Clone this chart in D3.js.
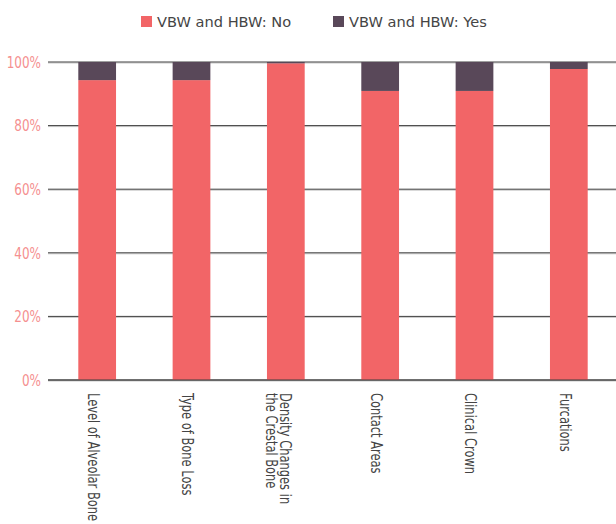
<!DOCTYPE html>
<html>
<head>
<meta charset="utf-8">
<script src="https://cdn.jsdelivr.net/npm/d3@7"></script>
<style>
  body { margin: 0; background: #fff; }
</style>
</head>
<body>
<div id="outlet"></div>
<script>
// chart data
const categories = [
  ["Level of Alveolar Bone"],
  ["Type of Bone Loss"],
  ["Density Changes in", "the Crestal Bone"],
  ["Contact Areas"],
  ["Clinical Crown"],
  ["Furcations"]
];
const seriesNames = ["VBW and HBW: No", "VBW and HBW: Yes"];
const noValues = [94.3, 94.3, 99.6, 90.9, 90.9, 97.8];
const yesValues = [5.7, 5.7, 0.4, 9.1, 9.1, 2.2];
const yTicks = [0, 20, 40, 60, 80, 100];

const width = 616, height = 524;
const marginLeft = 50, marginRight = 0, marginTop = 62, marginBottom = 144;
const colors = ["#f26567", "#594859"];
const condensed = "'DejaVu Sans Condensed', sans-serif";

const svg = d3.select("#outlet")
  .append("svg")
  .attr("width", width)
  .attr("height", height);

const x = d3.scaleBand()
  .domain(d3.range(categories.length))
  .range([marginLeft, width - marginRight])
  .paddingInner(0.6)
  .paddingOuter(0.3);

const y = d3.scaleLinear()
  .domain([0, 100])
  .range([height - marginBottom, marginTop]);

// gridlines
const grid = svg.append("g");
grid.selectAll("line.shadow")
  .data(yTicks)
  .join("line")
  .attr("class", "shadow")
  .attr("x1", 48).attr("x2", width)
  .attr("y1", d => y(d) + 1).attr("y2", d => y(d) + 1)
  .attr("stroke", "#c8c8c8");
grid.selectAll("line.main")
  .data(yTicks)
  .join("line")
  .attr("class", "main")
  .attr("x1", 48).attr("x2", width)
  .attr("y1", d => y(d)).attr("y2", d => y(d))
  .attr("stroke", "#3e3e3e");

// y axis labels
const yAxis = d3.axisLeft(y)
  .tickValues(yTicks)
  .tickFormat(d => d + "%")
  .tickSize(0)
  .tickPadding(0);

svg.append("g")
  .attr("transform", `translate(41,0)`)
  .call(yAxis)
  .call(g => g.select(".domain").remove())
  .call(g => g.selectAll("text")
    .attr("x", 0)
    .attr("transform", "scale(0.89,1)")
    .attr("fill", "#f58f8f")
    .attr("font-family", condensed)
    .attr("font-size", 15)
    .attr("dy", "0.35em"));

// stacked bars
const stacked = d3.stack().keys([0, 1])
  .value((i, k) => (k === 0 ? noValues : yesValues)[i])(d3.range(categories.length));

svg.append("g")
  .selectAll("g")
  .data(stacked)
  .join("g")
  .attr("fill", (d, k) => colors[k])
  .selectAll("rect")
  .data(d => d.map((v, i) => ({ v, i })))
  .join("rect")
  .attr("x", d => x(d.i))
  .attr("width", x.bandwidth())
  .attr("y", d => y(d.v[1]))
  .attr("height", d => y(d.v[0]) - y(d.v[1]));

// redraw zero line on top
svg.append("line")
  .attr("x1", 48).attr("x2", width)
  .attr("y1", y(0)).attr("y2", y(0))
  .attr("stroke", "#3e3e3e");

// category labels, rotated
const labels = svg.append("g")
  .selectAll("text")
  .data(categories)
  .join("text")
  .attr("transform", (d, i) => `translate(${x(i) + x.bandwidth() / 2},393) rotate(90) scale(0.85,1)`)
  .attr("font-family", condensed)
  .attr("font-size", 15)
  .attr("fill", "#444");

labels.selectAll("tspan")
  .data(d => d.map((t, j) => ({ t, j, n: d.length })))
  .join("tspan")
  .attr("x", 0)
  .attr("y", d => d.n === 1 ? 9 : 6 + d.j * 13.5)
  .text(d => d.t);

// legend
const legendX = [141, 333];
const legend = svg.append("g")
  .selectAll("g")
  .data(seriesNames)
  .join("g")
  .attr("transform", (d, i) => `translate(${legendX[i]},16)`);

legend.append("rect")
  .attr("width", 11).attr("height", 11)
  .attr("fill", (d, i) => colors[i]);

legend.append("text")
  .attr("x", 16)
  .attr("y", 11)
  .attr("font-family", "'DejaVu Sans', sans-serif")
  .attr("font-size", 14.6)
  .attr("fill", "#454545")
  .text(d => d);
</script>
</body>
</html>
